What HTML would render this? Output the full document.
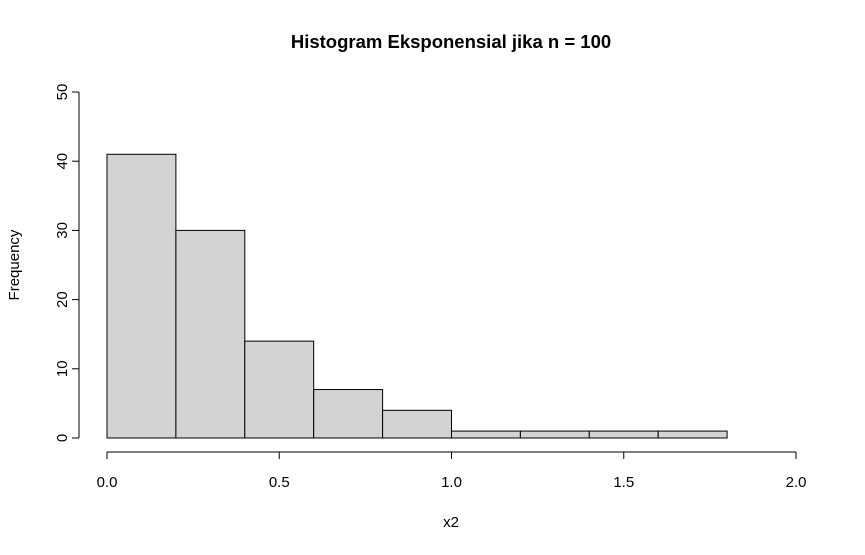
<!DOCTYPE html>
<html><head><meta charset="utf-8"><style>
body{margin:0;background:#fff;}
svg text{font-family:"Liberation Sans",Arial,sans-serif;fill:#000;}
</style></head><body>
<svg id="chart" width="865" height="550" xmlns="http://www.w3.org/2000/svg">
<text x="451" y="48" text-anchor="middle" font-size="18.5" font-weight="bold">Histogram Eksponensial jika n = 100</text>
<text x="451" y="527" text-anchor="middle" font-size="15">x2</text>
<text x="19" y="265" text-anchor="middle" font-size="15" transform="rotate(-90 19 265)">Frequency</text>
<g id="bars"></g><g id="xaxis"></g><g id="yaxis"></g>
</svg>
<script>
const binStarts=[0,0.2,0.4,0.6,0.8,1.0,1.2,1.4,1.6];
const binWidth=0.2;
const counts=[41,30,14,7,4,1,1,1,1];
const xTicks=[0,0.5,1,1.5,2];
const xTickLabels=["0.0","0.5","1.0","1.5","2.0"];
const yTicks=[0,10,20,30,40,50];
const ns="http://www.w3.org/2000/svg";
const X=v=>107+v*344.5;
const Y=v=>438-v*6.92;
function mk(t,a,p){const e=document.createElementNS(ns,t);for(const k in a)e.setAttribute(k,a[k]);p.appendChild(e);return e;}
const bars=document.getElementById('bars');
counts.forEach((c,i)=>{
 const r=mk('rect',{x:X(binStarts[i]),y:Y(c),width:X(binStarts[i]+binWidth)-X(binStarts[i]),height:Y(0)-Y(c),fill:'#d3d3d3',stroke:'#000','stroke-width':1},bars);
 
 
});
const xa=document.getElementById('xaxis');


mk('line',{x1:X(xTicks[0]),x2:X(xTicks[xTicks.length-1]),y1:452,y2:452,stroke:'#000'},xa);
xTicks.forEach((t,i)=>{
 mk('line',{x1:X(t),x2:X(t),y1:452,y2:459,stroke:'#000'},xa);
 const tx=mk('text',{x:X(t),y:487,'text-anchor':'middle','font-size':15},xa);
 tx.textContent=xTickLabels[i];
 
 
});
const ya=document.getElementById('yaxis');


mk('line',{x1:79,x2:79,y1:Y(yTicks[0]),y2:Y(yTicks[yTicks.length-1]),stroke:'#000'},ya);
yTicks.forEach(t=>{
 mk('line',{x1:72,x2:79,y1:Y(t),y2:Y(t),stroke:'#000'},ya);
 const tx=mk('text',{x:67,y:Y(t),'text-anchor':'middle','font-size':15,transform:`rotate(-90 67 ${Y(t)})`},ya);
 tx.textContent=t;
 
 
});
</script>
</body></html>
